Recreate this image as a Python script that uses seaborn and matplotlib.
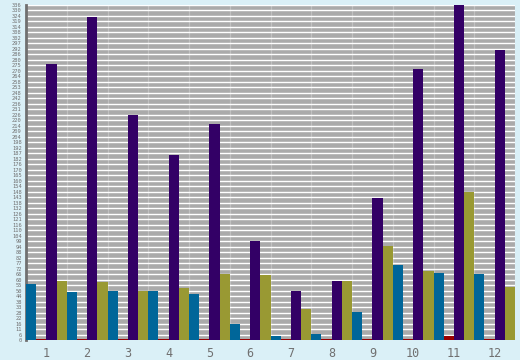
import numpy as np
import pandas as pd
import matplotlib
matplotlib.use("Agg")
import matplotlib.pyplot as plt
import seaborn as sns
from matplotlib.ticker import FixedLocator

months = ["1", "2", "3", "4", "5", "6", "7", "8", "9", "10", "11", "12"]
series_names = ["A", "B", "C", "D"]
teal = [56, 48, 49, 49, 46, 16, 4, 6, 28, 75, 67, 66]
red = [1.5, 1.5, 1.5, 1.5, 1.5, 1.5, 1.5, 1.5, 1.5, 1.5, 4, 1.5]
purple = [276, 323, 225, 185, 216, 99, 49, 59, 142, 271, 335, 290]
olive = [59, 58, 49, 52, 66, 65, 31, 59, 94, 69, 148, 53]
colors = ["#006699", "#990000", "#330066", "#999933"]

rows = []
for name, vals in zip(series_names, [teal, red, purple, olive]):
    for m, v in zip(months, vals):
        rows.append({"month": m, "series": name, "value": v})
df = pd.DataFrame(rows)

sns.set_style("white")
fig = plt.figure(figsize=(5.2, 3.6), dpi=100)
fig.patch.set_facecolor("#daf0f7")
ax = fig.add_axes([26 / 520, 20 / 360, 489 / 520, 335 / 360])
ax.set_facecolor("#aaaaaa")

sns.barplot(data=df, x="month", y="value", hue="series", palette=colors,
            width=1.0, gap=0, linewidth=0, saturation=1, ax=ax, legend=False,
            errorbar=None, zorder=3)

ax.set_xlim(-0.5, 11.5)
ax.set_ylim(0, 335)
yt = np.arange(0, 336, 5.5)
ax.set_yticks(yt)
ax.set_yticklabels([str(int(round(v))) for v in yt], fontsize=3.9,
                   color="#707070", family="DejaVu Sans Mono")
ax.grid(axis="y", color="white", linewidth=1.0, zorder=0)
ax.set_axisbelow(True)

ax.xaxis.set_minor_locator(FixedLocator(np.arange(0.5, 11.6, 1.0)))
ax.grid(axis="x", which="minor", color="#c0c0c0", linewidth=0.9, zorder=0)
ax.tick_params(axis="x", which="major", length=0, pad=5, labelsize=8.5,
               labelcolor="#707070")
ax.tick_params(axis="x", which="minor", length=5, width=1, color="#808080")
ax.tick_params(axis="y", length=2, width=1, color="#707070", pad=1)
for lab in ax.get_xticklabels():
    lab.set_family("DejaVu Sans Mono")

ax.set_xlabel("")
ax.set_ylabel("")
for s in ["top", "right", "bottom"]:
    ax.spines[s].set_visible(False)
ax.spines["left"].set_color("#707070")
ax.spines["left"].set_linewidth(2)

fig.savefig("out.png", dpi=100, facecolor=fig.get_facecolor())
